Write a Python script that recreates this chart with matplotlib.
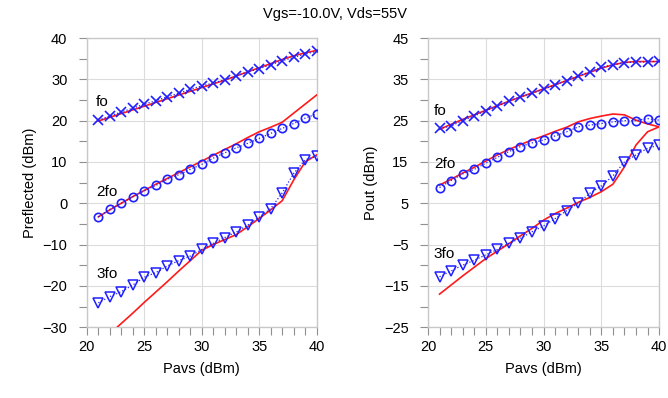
import matplotlib
matplotlib.use("Agg")
import matplotlib.pyplot as plt
from matplotlib.ticker import MultipleLocator

plt.rcParams['font.family'] = ['Liberation Sans', 'DejaVu Sans']

pavs = list(range(21, 41))

# Left panel: Preflected (dBm)
refl_fo_meas = [20.1, 21.1, 22.1, 23.0, 24.0, 24.8, 25.8, 26.6, 27.6, 28.4,
                29.1, 29.9, 30.8, 31.8, 32.6, 33.5, 34.5, 35.3, 36.1, 36.8]
refl_fo_sim = [19.9, 20.8, 21.7, 22.6, 23.5, 24.4, 25.3, 26.2, 27.1, 28.0,
               28.9, 29.8, 30.8, 31.8, 32.8, 33.8, 34.8, 35.7, 36.4, 37.0]
refl_2fo_meas = [-3.3, -1.5, 0.0, 1.6, 3.0, 4.3, 5.8, 6.9, 8.2, 9.4,
                 10.9, 12.2, 13.4, 14.5, 15.7, 16.9, 18.1, 19.3, 20.6, 21.6]
refl_2fo_sim = [-3.3, -1.6, 0.0, 1.6, 3.1, 4.6, 6.0, 7.4, 8.8, 10.2,
                11.6, 13.0, 14.4, 15.9, 17.3, 18.4, 19.6, 21.8, 24.0, 26.2]
refl_3fo_meas = [-24.1, -22.6, -21.4, -19.8, -17.9, -16.8, -15.2, -13.9, -12.8, -11.2,
                 -9.7, -8.3, -7.0, -5.3, -3.4, -1.3, 2.5, 7.2, 10.5, 11.4]
refl_3fo_sim = [-34.1, -31.6, -29.1, -26.6, -24.0, -21.5, -19.0, -16.4, -13.9, -11.4,
                -10.0, -8.8, -7.6, -5.7, -3.7, -1.6, 0.6, 5.6, 10.0, 11.7]

# Right panel: Pout (dBm)
pout_fo_meas = [23.1, 23.7, 25.0, 26.1, 27.4, 28.5, 29.7, 30.8, 31.6, 32.6,
                33.6, 34.7, 35.8, 36.8, 37.9, 38.5, 39.0, 39.2, 39.2, 39.4]
pout_fo_sim = [22.9, 24.1, 25.3, 26.4, 27.5, 28.6, 29.7, 30.7, 31.7, 32.7,
               33.7, 34.7, 35.7, 36.7, 37.7, 38.5, 39.1, 39.3, 39.3, 39.3]
pout_2fo_meas = [8.8, 10.5, 12.1, 13.2, 14.7, 16.1, 17.5, 18.7, 19.6, 20.3,
                 21.3, 22.3, 23.5, 23.9, 24.3, 24.7, 25.0, 25.0, 25.5, 25.1]
pout_2fo_sim = [9.4, 10.8, 12.3, 13.7, 15.2, 16.7, 18.0, 19.2, 20.3, 21.3,
                22.4, 23.4, 24.7, 25.5, 26.1, 26.6, 26.4, 25.1, 24.2, 23.5]
pout_3fo_meas = [-12.8, -11.4, -10.0, -8.8, -7.5, -6.2, -4.7, -3.5, -1.9, -0.5,
                 1.3, 3.2, 5.0, 7.4, 9.2, 11.6, 15.0, 16.7, 18.3, 19.1]
pout_3fo_sim = [-17.0, -14.8, -12.6, -10.5, -8.4, -6.6, -4.8, -2.9, -1.1, 0.9,
                2.5, 3.8, 5.2, 6.4, 7.8, 9.6, 13.8, 19.1, 22.3, 23.5]

harm_labels = ["fo", "2fo", "3fo"]
left_label_y = [24.5, 2.6, -17.1]
right_label_y = [27.3, 14.5, -7.3]

BLUE = "#1f1fff"
RED = "#ff1a1a"
GRIDC = "#dcdcdc"
SPINEC = "#c8c8c8"

fig = plt.figure(figsize=(6.68, 3.98), dpi=100)
ax1 = fig.add_axes([0.130, 0.178, 0.344, 0.7265])
ax2 = fig.add_axes([0.6407, 0.178, 0.346, 0.7265])


def style(ax, ylo, yhi, yoff):
    ax.set_xlim(20, 40)
    ax.set_ylim(ylo, yhi)
    ax.xaxis.set_major_locator(MultipleLocator(5))
    ax.xaxis.set_minor_locator(MultipleLocator(1))
    ax.yaxis.set_major_locator(MultipleLocator(10, offset=yoff))
    ax.yaxis.set_minor_locator(MultipleLocator(5))
    ax.grid(True, which="major", color=GRIDC, linewidth=0.8)
    ax.set_axisbelow(True)
    for s in ax.spines.values():
        s.set_color(SPINEC)
        s.set_linewidth(1.0)
    ax.tick_params(which="both", direction="out", length=6, width=0.8,
                   color="#909090", labelsize=10.5, top=False, right=False)
    ax.tick_params(axis="y", which="both", pad=8)
    ax.tick_params(axis="x", which="both", pad=3)
    ax.set_xlabel("Pavs (dBm)", fontsize=10.5, labelpad=6)


def draw(ax, meas, sims, label_y, label_x):
    markers = [dict(marker="x", ms=6.5, mew=1.2),
               dict(marker="o", ms=6, mew=1.2, mfc="none"),
               dict(marker="v", ms=6.5, mew=1.1, mfc="none")]
    for m, s, mk in zip(meas, sims, markers):
        ax.plot(pavs, s, color=RED, linewidth=1.2, zorder=3)
        ax.plot(pavs, m, color=BLUE, linestyle=":", linewidth=0.9,
                mec=BLUE, zorder=4, **mk)
    for lab, ly in zip(harm_labels, label_y):
        ax.text(label_x, ly, lab, fontsize=11, ha="left", va="center", zorder=5)


style(ax1, -30, 40, 0)
draw(ax1, [refl_fo_meas, refl_2fo_meas, refl_3fo_meas],
      [refl_fo_sim, refl_2fo_sim, refl_3fo_sim], left_label_y, 20.8)
ax1.set_ylabel("Preflected (dBm)", fontsize=10.5, labelpad=4)

style(ax2, -25, 45, 5)
draw(ax2, [pout_fo_meas, pout_2fo_meas, pout_3fo_meas],
      [pout_fo_sim, pout_2fo_sim, pout_3fo_sim], right_label_y, 20.5)
ax2.set_ylabel("Pout (dBm)", fontsize=10.5, labelpad=4)

fig.text(0.502, 0.965, "Vgs=-10.0V, Vds=55V", ha="center", va="center", fontsize=10.5)

fig.savefig("out.png", dpi=100)
